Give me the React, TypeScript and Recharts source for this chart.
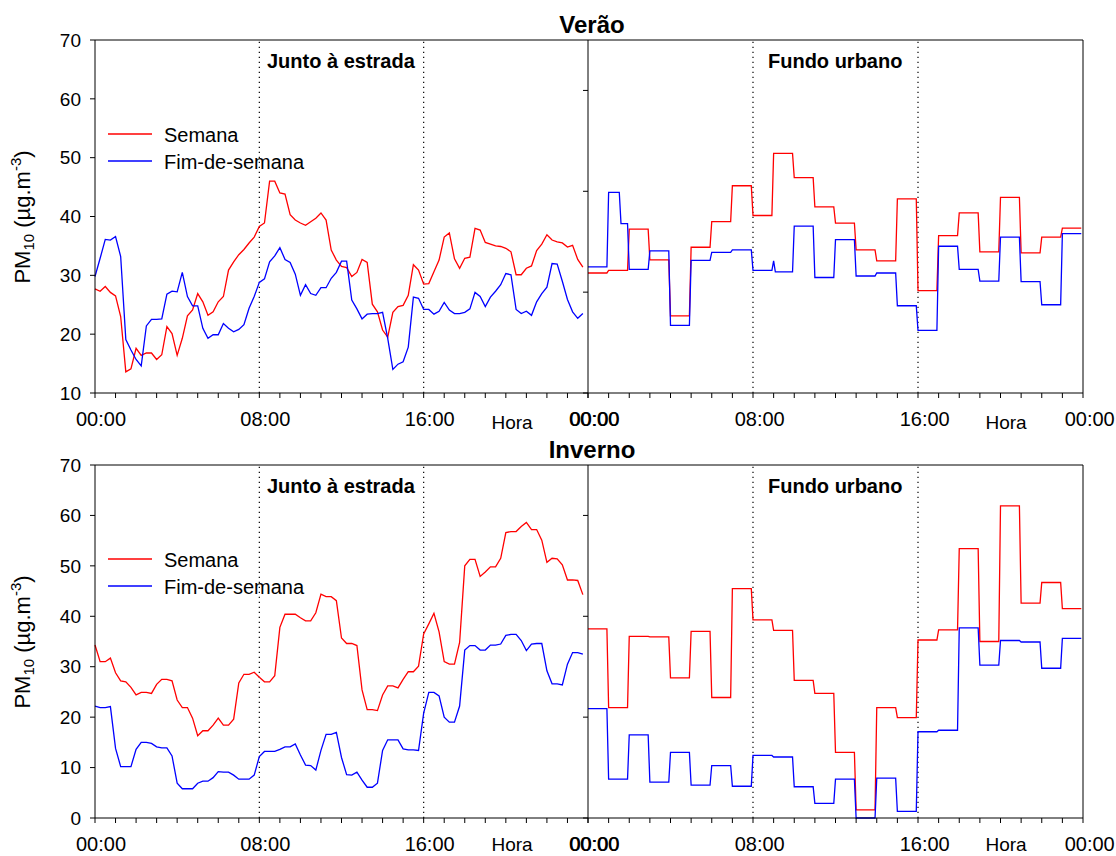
import React from 'react';
import { LineChart, Line, XAxis, YAxis, ReferenceLine } from 'recharts';

// PM10 médio diário por hora (15 min) - junto à estrada
const veraoEstradaSemana = [
  27.7, 27.3, 28.1, 27.1, 26.5, 23.0, 13.6, 14.1, 17.6, 16.4,
  16.8, 16.8, 15.7, 16.5, 21.3, 20.1, 16.4, 19.3, 23.1, 24.1,
  26.9, 25.5, 23.2, 23.8, 25.5, 26.4, 30.9, 32.3, 33.5, 34.4,
  35.5, 36.5, 38.3, 38.9, 46.0, 46.0, 44.0, 43.8, 40.3, 39.4,
  38.9, 38.5, 39.1, 39.7, 40.6, 39.4, 34.3, 32.6, 31.5, 31.3,
  29.8, 30.5, 32.7, 32.2, 25.1, 23.8, 20.7, 19.5, 23.7, 24.7,
  24.9, 26.6, 31.8, 30.9, 28.5, 28.6, 30.6, 32.6, 36.5, 37.2,
  32.8, 31.2, 32.9, 33.1, 38.0, 37.7, 35.6, 35.3, 35.0, 34.9,
  34.6, 34.0, 30.1, 30.1, 31.2, 31.6, 34.2, 35.3, 36.9, 36.0,
  35.7, 35.5, 34.8, 35.1, 32.7, 31.4,
];
const veraoEstradaFim = [
  29.8, 32.9, 36.1, 36.0, 36.6, 33.2, 19.1, 17.3, 15.7, 14.6,
  21.4, 22.5, 22.5, 22.6, 26.8, 27.3, 27.2, 30.5, 26.4, 24.8,
  24.8, 21.0, 19.3, 19.9, 19.9, 21.8, 21.0, 20.4, 20.8, 21.6,
  24.4, 26.4, 28.8, 29.4, 32.3, 33.3, 34.7, 32.7, 32.2, 30.2,
  26.6, 28.4, 26.9, 26.6, 27.9, 27.9, 29.5, 30.5, 32.4, 32.4,
  25.8, 24.3, 22.6, 23.4, 23.5, 23.5, 23.7, 19.3, 14.0, 14.9,
  15.3, 17.8, 26.3, 26.1, 24.2, 24.2, 23.4, 23.9, 25.4, 24.1,
  23.5, 23.5, 23.7, 24.3, 27.1, 26.4, 24.7, 26.3, 27.3, 28.4,
  30.3, 30.1, 24.2, 23.5, 23.9, 23.2, 25.5, 26.9, 28.0, 32.0,
  31.9, 29.0, 25.9, 23.8, 22.7, 23.5,
];
const invernoEstradaSemana = [
  34.3, 31.0, 31.0, 31.7, 28.8, 27.2, 27.0, 25.9, 24.4, 24.9,
  24.9, 24.7, 26.5, 27.5, 27.5, 27.2, 23.4, 21.9, 21.9, 19.8,
  16.3, 17.3, 17.3, 18.4, 19.8, 18.4, 18.4, 19.6, 26.8, 28.5,
  28.5, 28.9, 27.9, 27.0, 27.0, 28.2, 37.8, 40.4, 40.4, 40.4,
  39.7, 39.1, 39.1, 40.7, 44.4, 43.9, 43.9, 43.1, 35.7, 34.6,
  34.6, 34.2, 25.4, 21.5, 21.5, 21.3, 24.4, 26.2, 26.2, 25.8,
  27.5, 29.0, 29.0, 30.1, 36.5, 38.5, 40.6, 36.9, 31.0, 30.5,
  30.5, 34.8, 50.0, 51.3, 51.3, 47.9, 48.8, 49.8, 49.8, 51.5,
  56.6, 56.8, 56.8, 57.8, 58.6, 57.2, 57.2, 55.1, 50.7, 51.5,
  51.4, 50.2, 47.2, 47.2, 47.1, 44.3,
];
const invernoEstradaFim = [
  22.2, 21.9, 21.9, 22.1, 13.8, 10.2, 10.2, 10.2, 13.6, 15.0,
  15.0, 14.8, 14.1, 13.9, 13.9, 12.3, 6.9, 5.8, 5.8, 5.8,
  6.9, 7.3, 7.3, 8.0, 9.2, 9.1, 9.1, 8.5, 7.7, 7.7,
  7.7, 8.5, 12.2, 13.2, 13.2, 13.2, 13.6, 14.1, 14.1, 14.7,
  12.5, 10.5, 10.4, 9.5, 13.4, 16.6, 16.6, 17.0, 12.0, 8.6,
  8.5, 9.1, 7.5, 6.1, 6.1, 6.9, 13.4, 15.5, 15.5, 15.5,
  13.7, 13.5, 13.5, 13.4, 20.8, 24.9, 24.9, 24.2, 20.0, 19.0,
  19.0, 22.2, 33.3, 34.2, 34.2, 33.3, 33.3, 34.3, 34.3, 34.5,
  36.2, 36.4, 36.4, 35.2, 33.2, 34.5, 34.6, 34.6, 29.2, 26.6,
  26.6, 26.4, 30.5, 32.8, 32.8, 32.5,
];

// fundo urbano - médias horárias
const veraoFundoSemana = [
  23.8, 24.3, 32.5, 26.4, 15.3, 28.9, 34.0, 41.1, 35.2, 47.5, 42.7, 36.9,
  33.7, 28.4, 26.2, 38.5, 20.3, 31.2, 35.7, 28.0, 38.8, 27.8, 30.9, 32.7,
];
// [hora de início, valor]
const veraoFundoFim = [
  [0, 25.0], [1, 39.8], [1.6, 33.6], [2, 24.5], [3, 28.2], [4, 13.4], [5, 26.3],
  [6, 27.9], [7, 28.4], [8, 24.3], [9, 26.2], [9.083, 24.0], [10, 33.1], [11, 22.9],
  [12, 30.4], [13, 23.2], [14, 23.8], [15, 17.3], [16, 12.4], [17, 29.1], [18, 24.5],
  [19, 22.2], [20, 30.9], [21, 22.1], [22, 17.5], [23, 31.6],
];
const invernoFundoSemana = [
  37.5, 21.9, 36.0, 35.9, 27.8, 37.0, 23.9, 45.5, 39.3, 37.2, 27.3, 24.7,
  13.0, 1.6, 21.9, 19.9, 35.3, 37.3, 53.4, 35.0, 61.9, 42.6, 46.7, 41.5,
];
const invernoFundoFim = [
  21.7, 7.7, 16.5, 7.1, 13.0, 6.5, 10.4, 6.3, 12.4, 12.1, 6.2, 2.9,
  7.7, 0, 7.9, 1.3, 17.1, 17.4, 37.7, 30.3, 35.2, 34.9, 29.7, 35.6,
];

const hourTicks = [0, 1, 2, 3, 4, 5, 6, 7, 8, 9, 10, 11, 12, 13, 14, 15, 16, 17, 18, 19, 20, 21, 22, 23, 24];
const labelHoras = [0, 8, 16, 24];
const labelTextos = ['00:00', '08:00', '16:00', '00:00'];
const veraoTicks = [10, 20, 30, 40, 50, 60, 70];
const invernoTicks = [0, 10, 20, 30, 40, 50, 60, 70];
const fundoTicks = [0, 20, 40, 60];

const RED = '#ff0000';
const BLUE = '#0000ff';
const FONT = "'Liberation Sans', Arial, Helvetica, sans-serif";
const RAMP = 1 / 12; // dados a 5 min

const estradaRows = (semana: number[], fim: number[]) =>
  semana.map((v, i) => ({ t: i / 4, semana: v, fim: fim[i] }));

const hourly = (vals: number[]) => vals.map((v, h) => [h, v]);

function stepPoints(steps: number[][]) {
  const pts: { t: number; v: number }[] = [];
  steps.forEach(([t, v], i) => {
    const end = (i + 1 < steps.length ? steps[i + 1][0] : 24) - RAMP;
    pts.push({ t, v });
    if (end > t + 1e-6) pts.push({ t: end, v });
  });
  return pts;
}

function HourTick(props: any) {
  const { x, y, payload, dx } = props;
  const idx = labelHoras.indexOf(payload.value);
  if (idx < 0) return <g />;
  return (
    <text x={x + dx} y={y} dy="0.71em" textAnchor="middle" fontSize={20} fill="#000" fontFamily={FONT}>
      {labelTextos[idx]}
    </text>
  );
}

const axisStroke = { stroke: '#000' };
const dotted = { stroke: '#000', strokeDasharray: '1.2 3.8', strokeWidth: 1.2 };

function EstradaChart({ top, semana, fim, domain, ticks }: any) {
  return (
    <div style={{ position: 'absolute', left: 0, top }}>
      <LineChart width={630} height={431} data={estradaRows(semana, fim)} margin={{ top: 40, right: 42, bottom: 0, left: 0 }}>
        <XAxis
          type="number"
          dataKey="t"
          domain={[0, 24]}
          ticks={hourTicks}
          interval={0}
          height={38}
          tickSize={5}
          tickMargin={14}
          axisLine={axisStroke}
          tickLine={axisStroke}
          tick={(p: any) => <HourTick {...p} dx={6} />}
        />
        <YAxis
          type="number"
          domain={domain}
          ticks={ticks}
          interval={0}
          width={95}
          tickSize={5}
          tickMargin={9}
          axisLine={axisStroke}
          tickLine={axisStroke}
          tick={{ fill: '#000', fontSize: 19, fontFamily: FONT }}
        />
        <ReferenceLine y={domain[1]} stroke="#000" />
        <ReferenceLine x={8} {...dotted} />
        <ReferenceLine x={16} {...dotted} />
        <Line type="linear" dataKey="semana" stroke={RED} strokeWidth={1.3} dot={false} isAnimationActive={false} />
        <Line type="linear" dataKey="fim" stroke={BLUE} strokeWidth={1.3} dot={false} isAnimationActive={false} />
      </LineChart>
    </div>
  );
}

function FundoChart({ top, semana, fim }: any) {
  return (
    <div style={{ position: 'absolute', left: 540, top }}>
      <LineChart width={576} height={431} margin={{ top: 40, right: 33, bottom: 0, left: 0 }}>
        <XAxis
          type="number"
          dataKey="t"
          domain={[0, 24]}
          ticks={hourTicks}
          interval={0}
          height={38}
          tickSize={5}
          tickMargin={14}
          axisLine={axisStroke}
          tickLine={axisStroke}
          tick={(p: any) => <HourTick {...p} dx={6.7} />}
        />
        <YAxis
          type="number"
          domain={[0, 70]}
          ticks={fundoTicks}
          interval={0}
          width={48}
          tickSize={5}
          axisLine={axisStroke}
          tickLine={axisStroke}
          tickFormatter={() => ''}
        />
        <ReferenceLine y={70} stroke="#000" />
        <ReferenceLine x={24} stroke="#000" />
        <ReferenceLine x={8} {...dotted} />
        <ReferenceLine x={16} {...dotted} />
        <Line data={stepPoints(semana)} type="linear" dataKey="v" stroke={RED} strokeWidth={1.3} dot={false} isAnimationActive={false} />
        <Line data={stepPoints(fim)} type="linear" dataKey="v" stroke={BLUE} strokeWidth={1.3} dot={false} isAnimationActive={false} />
      </LineChart>
    </div>
  );
}

function PanelText({ off, title, horaY }: { off: number; title: string; horaY: number }) {
  return (
    <g fontFamily={FONT} fill="#000">
      <text x={592} y={33 + off} textAnchor="middle" fontSize={24} fontWeight="bold">{title}</text>
      <text x={267} y={68 + off} fontSize={20} fontWeight="bold">Junto à estrada</text>
      <text x={768} y={68 + off} fontSize={20} fontWeight="bold">Fundo urbano</text>
      <text x={512} y={horaY} textAnchor="middle" fontSize={19}>Hora</text>
      <text x={1006} y={horaY} textAnchor="middle" fontSize={19}>Hora</text>
      <text transform={`translate(29.5, ${217 + off}) rotate(-90)`} textAnchor="middle" fontSize={22}>
        PM<tspan dy={4} fontSize={15}>10</tspan>
        <tspan dy={-4}> (µg.m</tspan>
        <tspan dy={-9} fontSize={15}>-3</tspan>
        <tspan dy={9}>)</tspan>
      </text>
      <line x1={108} x2={152} y1={134 + off} y2={134 + off} stroke={RED} strokeWidth={1.3} />
      <text x={164} y={141.5 + off} fontSize={20}>Semana</text>
      <line x1={108} x2={152} y1={161 + off} y2={161 + off} stroke={BLUE} strokeWidth={1.3} />
      <text x={164} y={168.5 + off} fontSize={20}>Fim-de-semana</text>
    </g>
  );
}

export default function App() {
  return (
    <div
      style={{
        position: 'absolute',
        left: 0,
        top: 0,
        width: 1116,
        height: 856,
        overflow: 'hidden',
        background: '#fff',
        fontFamily: FONT,
      }}
    >
      <EstradaChart top={0} semana={veraoEstradaSemana} fim={veraoEstradaFim} domain={[10, 70]} ticks={veraoTicks} />
      <FundoChart top={0} semana={hourly(veraoFundoSemana)} fim={veraoFundoFim} />
      <EstradaChart top={425} semana={invernoEstradaSemana} fim={invernoEstradaFim} domain={[0, 70]} ticks={invernoTicks} />
      <FundoChart top={425} semana={hourly(invernoFundoSemana)} fim={hourly(invernoFundoFim)} />
      <svg width={1116} height={856} style={{ position: 'absolute', left: 0, top: 0, pointerEvents: 'none' }}>
        <PanelText off={0} title="Verão" horaY={429} />
        <PanelText off={425} title="Inverno" horaY={851} />
      </svg>
    </div>
  );
}
